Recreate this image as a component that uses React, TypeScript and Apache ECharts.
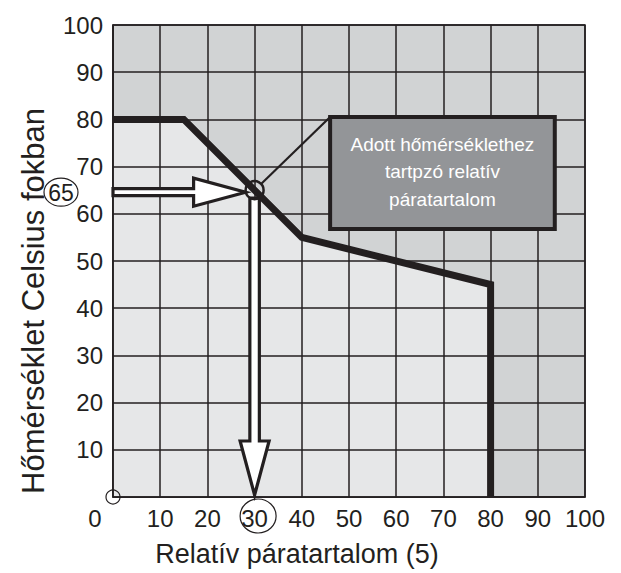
import React, { useEffect, useRef } from "react";
import * as echarts from "echarts";

// Curve: relative humidity (%) vs temperature (°C)
const humidity = [0, 15, 40, 80, 80];
const temperature = [80, 80, 55, 45, 0];

// Worked reading
const readingHumidity = 30;
const readingTemperature = 65;

// Axis ticks
const axisMin = 0;
const axisMax = 100;
const axisStep = 10;

const xTitle = "Relatív páratartalom (5)";
const yTitle = "Hőmérséklet Celsius fokban";
const calloutLines = ["Adott hőmérséklethez", "tartpzó relatív", "páratartalom"];

const INK = "#231f20";
const FONT = "'Liberation Sans', Arial, sans-serif";

export default function App() {
  const ref = useRef<HTMLDivElement>(null);

  useEffect(() => {
    if (!ref.current) return;
    const chart = echarts.init(ref.current, null, { renderer: "svg" });
    const curve = humidity.map((h, i) => [h, temperature[i]]);

    const renderAnnotations = (params: any, api: any) => {
      const P = api.coord([api.value(0), api.value(1)]);
      const O = api.coord([0, 0]);
      const Y0 = api.coord([0, api.value(1)]);
      const boxA = api.coord([46, 80.5]);
      const boxB = api.coord([93.6, 56.8]);
      const px = P[0];
      const py = P[1];
      const hy = Y0[1] + 2;
      const vx = px;
      const r = 9;
      const hArrow = [
        [Y0[0], hy - 3.5],
        [px - 61, hy - 3.5],
        [px - 61, hy - 14],
        [px - 9, hy],
        [px - 61, hy + 14],
        [px - 61, hy + 3.5],
        [Y0[0], hy + 3.5],
      ];
      const tipY = O[1] - 2;
      const headY = O[1] - 56;
      const vArrow = [
        [vx - 4.75, py + 8],
        [vx + 4.75, py + 8],
        [vx + 4.75, headY],
        [vx + 14.5, headY],
        [vx, tipY],
        [vx - 14.5, headY],
        [vx - 4.75, headY],
      ];
      const cornerX = boxA[0];
      const cornerY = boxA[1];
      const dx = cornerX - px;
      const dy = cornerY - py;
      const len = Math.sqrt(dx * dx + dy * dy);
      const cx = (boxA[0] + boxB[0]) / 2;
      const lineH = 27.5;
      const textTop = boxA[1] + 27;
      return {
        type: "group",
        children: [
          {
            type: "line",
            shape: { x1: px + (dx / len) * r, y1: py + (dy / len) * r, x2: cornerX, y2: cornerY },
            style: { stroke: INK, lineWidth: 2.2 },
          },
          {
            type: "rect",
            shape: { x: boxA[0], y: boxA[1], width: boxB[0] - boxA[0], height: boxB[1] - boxA[1] },
            style: { fill: "#939598", stroke: INK, lineWidth: 4 },
          },
          ...calloutLines.map((t, i) => ({
            type: "text",
            style: {
              text: t,
              x: cx,
              y: textTop + i * lineH,
              fill: "#ffffff",
              font: `19px ${FONT}`,
              align: "center",
              verticalAlign: "middle",
              textAlign: "center",
              textVerticalAlign: "middle",
            },
          })),
          {
            type: "polygon",
            shape: { points: vArrow },
            style: { fill: "#ffffff", stroke: INK, lineWidth: 3.2, lineJoin: "miter" },
          },
          {
            type: "polygon",
            shape: { points: hArrow },
            style: { fill: "#ffffff", stroke: INK, lineWidth: 3.2, lineJoin: "miter" },
          },
          {
            type: "circle",
            shape: { cx: px, cy: py, r },
            style: { fill: "none", stroke: INK, lineWidth: 2.5 },
          },
          {
            type: "ellipse",
            shape: { cx: Y0[0] - 52, cy: hy, rx: 17, ry: 14 },
            style: { fill: "none", stroke: INK, lineWidth: 1.2 },
          },
          {
            type: "text",
            style: {
              text: String(api.value(1)),
              x: Y0[0] - 52,
              y: hy + 1,
              fill: INK,
              font: `23px ${FONT}`,
              align: "center",
              verticalAlign: "middle",
              textAlign: "center",
              textVerticalAlign: "middle",
            },
          },
          {
            type: "ellipse",
            shape: { cx: px + 3.5, cy: O[1] + 19, rx: 18, ry: 17 },
            style: { fill: "none", stroke: INK, lineWidth: 1.2 },
          },
          {
            type: "circle",
            shape: { cx: O[0], cy: O[1], r: 7 },
            style: { fill: "none", stroke: INK, lineWidth: 1.2 },
          },
        ],
      };
    };

    const axisCommon = {
      type: "value",
      min: axisMin,
      max: axisMax,
      interval: axisStep,
      z: 3,
      axisLine: { show: true, lineStyle: { color: INK, width: 1.5 } },
      axisTick: { show: false },
      splitLine: { show: true, lineStyle: { color: INK, width: 1.5 } },
    };

    chart.setOption({
      animation: false,
      grid: {
        left: 113,
        top: 25,
        width: 472,
        height: 472,
        show: true,
        backgroundColor: "#d1d3d4",
        borderColor: INK,
        borderWidth: 1.5,
      },
      xAxis: {
        ...axisCommon,
        axisLabel: {
          color: INK,
          fontSize: 24,
          fontFamily: FONT,
          margin: 9,
          formatter: (v: number) => (v === 0 ? "{z|0}" : String(v)),
          rich: { z: { fontSize: 24, fontFamily: FONT, color: INK, padding: [0, 36, 0, 0] } },
        },
      },
      yAxis: {
        ...axisCommon,
        axisLabel: {
          color: INK,
          fontSize: 24,
          fontFamily: FONT,
          margin: 10,
          formatter: (v: number) => (v === 0 ? "" : String(v)),
        },
      },
      graphic: [
        {
          type: "text",
          x: 33,
          y: 301,
          rotation: Math.PI / 2,
          style: {
            text: yTitle,
            fill: INK,
            font: `31px ${FONT}`,
            align: "center",
            verticalAlign: "middle",
            textAlign: "center",
            textVerticalAlign: "middle",
          },
        },
        {
          type: "text",
          x: 297,
          y: 554,
          style: {
            text: xTitle,
            fill: INK,
            font: `27px ${FONT}`,
            align: "center",
            verticalAlign: "middle",
            textAlign: "center",
            textVerticalAlign: "middle",
          },
        },
      ],
      series: [
        {
          type: "line",
          data: curve,
          z: 1,
          symbol: "none",
          lineStyle: { width: 0, opacity: 0 },
          areaStyle: { color: "#e6e7e8", opacity: 1 },
          silent: true,
        },
        {
          type: "line",
          data: curve,
          z: 5,
          symbol: "none",
          lineStyle: { width: 7, color: INK, cap: "butt", join: "miter" },
          silent: true,
        },
        {
          type: "custom",
          z: 6,
          data: [[readingHumidity, readingTemperature]],
          renderItem: renderAnnotations,
          silent: true,
        },
      ],
    });
    return () => chart.dispose();
  }, []);

  return (
    <div
      ref={ref}
      style={{ position: "fixed", left: 0, top: 0, width: 621, height: 573, background: "#ffffff" }}
    />
  );
}
